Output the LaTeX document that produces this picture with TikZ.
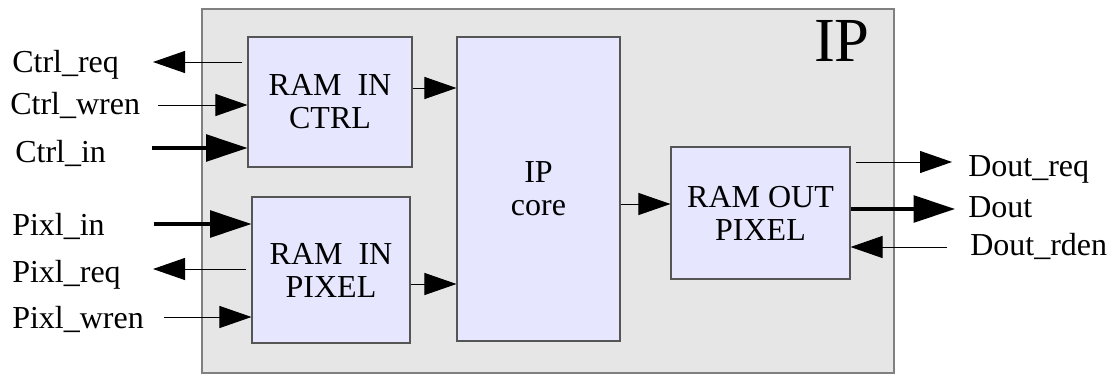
\documentclass[tikz,border=0pt]{standalone}
\usepackage{fontspec}
\setmainfont{Liberation Serif}
\usetikzlibrary{arrows.meta,calc}
\definecolor{outerfill}{HTML}{E6E6E6}
\definecolor{outerline}{HTML}{808080}
\definecolor{boxfill}{HTML}{E6E6FF}
\definecolor{boxline}{HTML}{555555}
\begin{document}
\begin{tikzpicture}[x=0.75pt,y=-0.75pt,
  outerbox/.style={draw=outerline,fill=outerfill,line width=1.1pt,inner sep=0pt},
  blockbox/.style={draw=boxline,fill=boxfill,line width=0.8pt,align=center,inner sep=0pt,
     font=\fontsize{24}{24.75}\selectfont},
  lbl/.style={inner sep=0pt,font=\fontsize{24}{28}\selectfont},
  arr/.style={-{Triangle[length=24pt,width=16.5pt]},line width=0.75pt},
  thickarr/.style={-{Triangle[length=31pt,width=20pt]},line width=2.6pt}]
\useasboundingbox (0,0) rectangle (1112,375);
% outer IP box
\node[outerbox,minimum width=519pt,minimum height=273pt] (ip) at (548,191) {};
\node[lbl,anchor=base east,font=\fontsize{47}{50}\selectfont] (iplbl) at (870,61) {IP};
% blocks
\node[blockbox,minimum width=123pt,minimum height=97.5pt] (ctrl) at (330,102) {RAM\ \ IN\\CTRL};
\node[blockbox,minimum width=118.5pt,minimum height=109.5pt] (pix) at (331,270) {RAM\ \ IN\\PIXEL};
\node[blockbox,minimum width=122.25pt,minimum height=228pt] (core) at (538.5,189) {IP\\core};
\node[blockbox,minimum width=134.25pt,minimum height=99pt] (out) at (760.5,213) {RAM OUT\\PIXEL};
% labels
\node[lbl,anchor=base west] (lcreq) at (12,72) {Ctrl\_req};
\node[lbl,anchor=base west] (lcwren) at (10,114) {Ctrl\_wren};
\node[lbl,anchor=base west] (lcin) at (15,162) {Ctrl\_in};
\node[lbl,anchor=base west] (lpin) at (12,235) {Pixl\_in};
\node[lbl,anchor=base west] (lpreq) at (12,282) {Pixl\_req};
\node[lbl,anchor=base west] (lpwren) at (12,328) {Pixl\_wren};
\node[lbl,anchor=base west] (ldreq) at (968,176) {Dout\_req};
\node[lbl,anchor=base west] (ldout) at (968,217) {Dout};
\node[lbl,anchor=base west] (ldrden) at (970,255) {Dout\_rden};
% free ends
\coordinate (creq) at (153,62);
\coordinate (cwren) at (158,105);
\coordinate (cin) at (152,148);
\coordinate (pin) at (154,224);
\coordinate (preq) at (153,269);
\coordinate (pwren) at (164,317);
\coordinate (dreq) at (952,162);
\coordinate (dout) at (955,209);
\coordinate (drden) at (947,247);
\coordinate (y88) at (0,88);
\coordinate (y284) at (0,284);
\coordinate (y204) at (0,204);
% left connectors
\draw[arr] ($(ctrl.west |- creq)+(-5,0)$) -- (creq);
\draw[arr] (cwren) -- (ctrl.west |- cwren);
\draw[thickarr] (cin) -- (ctrl.west |- cin);
\draw[thickarr] (pin) -- (pix.west |- pin);
\draw[arr] ($(pix.west |- preq)+(-5,0)$) -- (preq);
\draw[arr] (pwren) -- (pix.west |- pwren);
% inner connectors
\draw[arr] (ctrl.east |- y88) -- (core.west |- y88);
\draw[arr] (pix.east |- y284) -- (core.west |- y284);
\draw[arr] (core.east |- y204) -- (out.west |- y204);
% right connectors
\draw[arr] ($(out.east |- dreq)+(5,0)$) -- (dreq);
\draw[thickarr] (out.east |- dout) -- (dout);
\draw[arr] (drden) -- (out.east |- drden);
\end{tikzpicture}
\end{document}
